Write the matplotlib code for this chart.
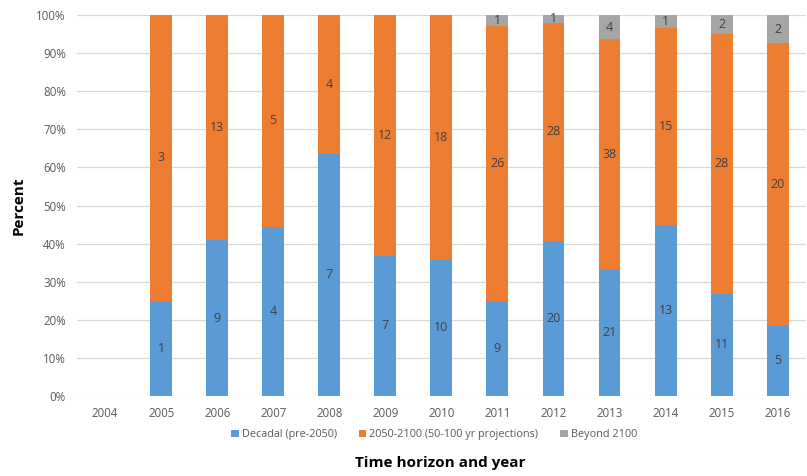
import numpy as np
import matplotlib.pyplot as plt
from matplotlib.ticker import PercentFormatter

plt.rcParams['font.family'] = ['Open Sans', 'DejaVu Sans']

years = ['2004', '2005', '2006', '2007', '2008', '2009', '2010',
         '2011', '2012', '2013', '2014', '2015', '2016']
decadal = [0, 1, 9, 4, 7, 7, 10, 9, 20, 21, 13, 11, 5]
mid_century = [0, 3, 13, 5, 4, 12, 18, 26, 28, 38, 15, 28, 20]
beyond = [0, 0, 0, 0, 0, 0, 0, 1, 1, 4, 1, 2, 2]

labels = ['Decadal (pre-2050)', '2050-2100 (50-100 yr projections)', 'Beyond 2100']
colors = ['#5B9BD5', '#ED7D31', '#A5A5A5']

counts = np.array([decadal, mid_century, beyond], dtype=float)
totals = counts.sum(axis=0)
shares = np.divide(counts, totals, out=np.zeros_like(counts), where=totals > 0) * 100

fig = plt.figure(figsize=(8.07, 4.76), dpi=100)
ax = fig.add_axes([0.0954, 0.168, 0.903, 0.8005])

x = np.arange(len(years))
bottom = np.zeros(len(years))
for cnt, pct, lab, col in zip(counts, shares, labels, colors):
    ax.bar(x, pct, bottom=bottom, width=0.39, color=col, label=lab, zorder=2)
    for i in range(len(years)):
        if cnt[i] > 0:
            ax.text(x[i], bottom[i] + pct[i] / 2, f"{int(cnt[i])}",
                    ha='center', va='center', fontsize=9, color='#404040', zorder=3)
    bottom += pct

ax.set_xlim(-0.5, len(years) - 0.5)
ax.set_ylim(0, 100)
ax.set_yticks(np.arange(0, 101, 10))
ax.yaxis.set_major_formatter(PercentFormatter(decimals=0))
ax.set_xticks(x)
ax.set_xticklabels(years)
ax.tick_params(length=0, labelsize=8.3, colors='#595959', pad=8)
ax.grid(axis='y', color='#D9D9D9', linewidth=0.9, zorder=0)
for s in ax.spines.values():
    s.set_visible(False)

ax.set_ylabel('Percent', fontsize=11, fontweight='bold', color='black', labelpad=8)
fig.text(0.545, 0.028, 'Time horizon and year', ha='center', va='center',
         fontsize=11, fontweight='bold', color='black')

ax.legend(loc='center', bbox_to_anchor=(0.49, -0.102), ncol=3, frameon=False,
          fontsize=7.8, labelcolor='#595959', handlelength=0.7, handleheight=0.7,
          handletextpad=0.3, columnspacing=2.0)

fig.savefig('out.png', dpi=100)
